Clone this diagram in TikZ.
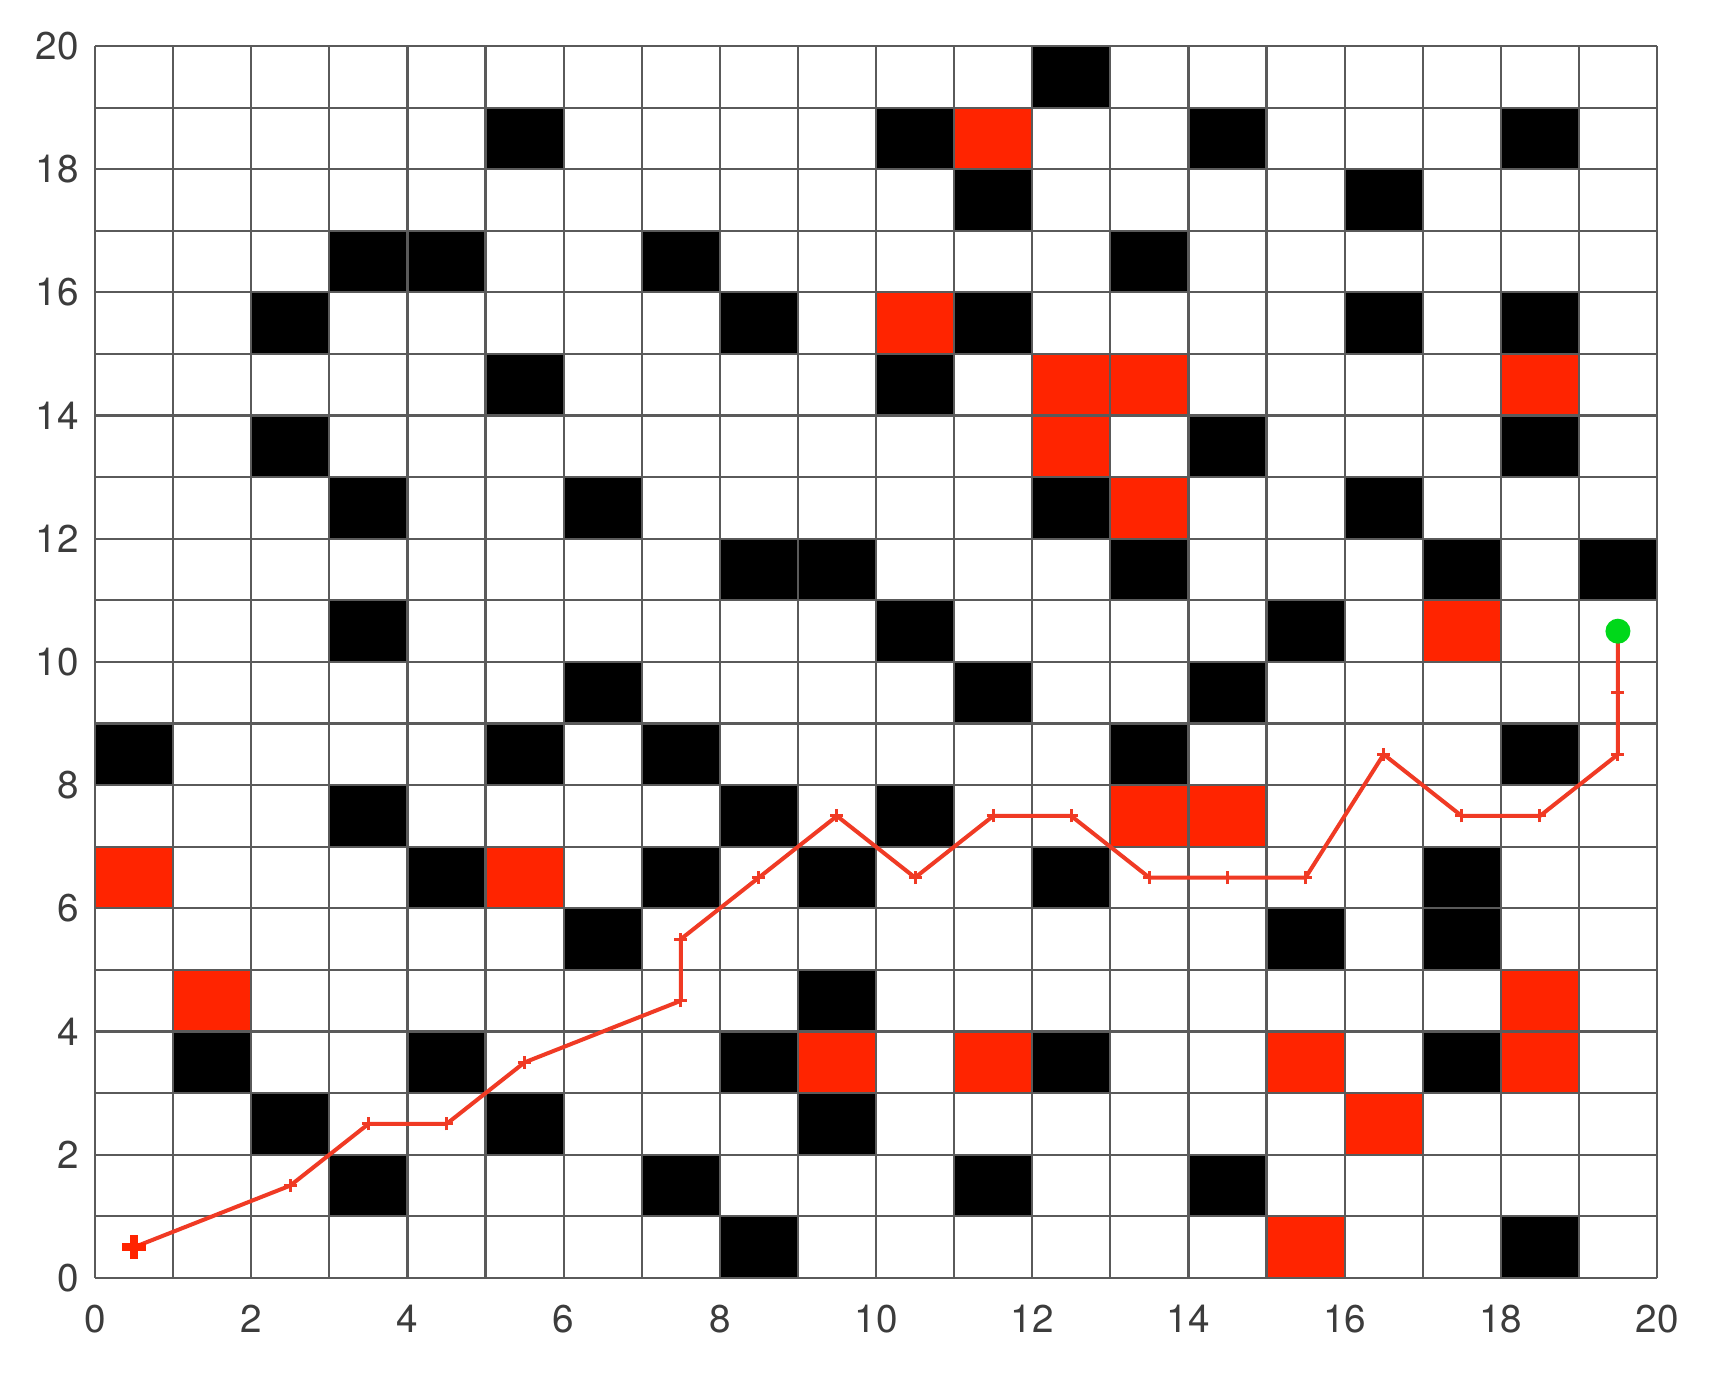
\documentclass[tikz,border=0pt]{standalone}
\usepackage{fontspec}
\setmainfont{TeX Gyre Heros}
\definecolor{obst}{HTML}{000000}
\definecolor{hot}{HTML}{FF2400}
\definecolor{pathred}{HTML}{F03A24}
\definecolor{gridc}{HTML}{5A5A5A}
\definecolor{labc}{HTML}{3C3C3C}
\definecolor{goal}{HTML}{00D81A}
\tikzset{
  blackcell/.style={fill=obst},
  redcell/.style={fill=hot},
  gridline/.style={draw=gridc, line width=0.22mm},
  route/.style={draw=pathred, line width=0.4mm, line join=round},
  wp/.style={draw=pathred, line width=0.3mm},
  ticklab/.style={text=labc, font=\fontsize{11}{13}\selectfont, inner sep=0pt}
}
\begin{document}
\begin{tikzpicture}[x=0.781cm, y=0.616cm]
\useasboundingbox (-1.2164,-1.9156) rectangle (20.858,20.747);
\fill[white] (-1.2164,-1.9156) rectangle (20.858,20.747);
% black obstacle cells (column,row)
\foreach \c/\r in {12/19,
  5/18,10/18,14/18,18/18,
  11/17,16/17,
  3/16,4/16,7/16,13/16,
  2/15,8/15,11/15,16/15,18/15,
  5/14,10/14,
  2/13,14/13,18/13,
  3/12,6/12,12/12,16/12,
  8/11,9/11,13/11,17/11,19/11,
  3/10,10/10,15/10,
  6/9,11/9,14/9,
  0/8,5/8,7/8,13/8,18/8,
  3/7,8/7,10/7,
  4/6,7/6,9/6,12/6,17/6,
  6/5,15/5,17/5,
  9/4,
  1/3,4/3,8/3,12/3,17/3,
  2/2,5/2,9/2,
  3/1,7/1,11/1,14/1,
  8/0,18/0}
  \path[blackcell] (\c,\r) rectangle ++(1,1);
% red cells
\foreach \c/\r in {11/18,10/15,12/14,13/14,18/14,12/13,13/12,17/10,
  13/7,14/7,0/6,5/6,1/4,18/4,9/3,11/3,15/3,18/3,16/2,15/0}
  \path[redcell] (\c,\r) rectangle ++(1,1);
% grid
\foreach \i in {0,...,20} {
  \draw[gridline] (\i,0) -- (\i,20);
  \draw[gridline] (0,\i) -- (20,\i);
}
% tick labels
\foreach \v in {0,2,...,20} {
  \node[ticklab, anchor=east] (yl\v) at (-0.2,\v) {\v};
  \node[ticklab] (xl\v) at (\v,-0.66) {\v};
}
% route
\draw[route] (0.5,0.5) -- (2.5,1.5) -- (3.5,2.5) -- (4.5,2.5) -- (5.5,3.5)
  -- (7.5,4.5) -- (7.5,5.5) -- (8.5,6.5) -- (9.5,7.5) -- (10.5,6.5)
  -- (11.5,7.5) -- (12.5,7.5) -- (13.5,6.5) -- (14.5,6.5) -- (15.5,6.5)
  -- (16.5,8.5) -- (17.5,7.5) -- (18.5,7.5) -- (19.5,8.5) -- (19.5,9.5)
  -- (19.5,10.5);
\foreach \px/\py in {2.5/1.5,3.5/2.5,4.5/2.5,5.5/3.5,7.5/4.5,7.5/5.5,8.5/6.5,
  9.5/7.5,10.5/6.5,11.5/7.5,12.5/7.5,13.5/6.5,14.5/6.5,15.5/6.5,16.5/8.5,
  17.5/7.5,18.5/7.5,19.5/8.5,19.5/9.5}
  \draw[wp] ([xshift=-0.65mm]\px,\py) -- ([xshift=0.65mm]\px,\py)
            ([yshift=-0.65mm]\px,\py) -- ([yshift=0.65mm]\px,\py);
% start marker
\draw[draw=hot, line width=0.8mm] ([xshift=-1.2mm]0.5,0.5) -- ([xshift=1.2mm]0.5,0.5)
  ([yshift=-1.2mm]0.5,0.5) -- ([yshift=1.2mm]0.5,0.5);
% goal
\node[circle, fill=goal, minimum size=2.5mm, inner sep=0pt] (goalpt) at (19.5,10.5) {};
\end{tikzpicture}
\end{document}
